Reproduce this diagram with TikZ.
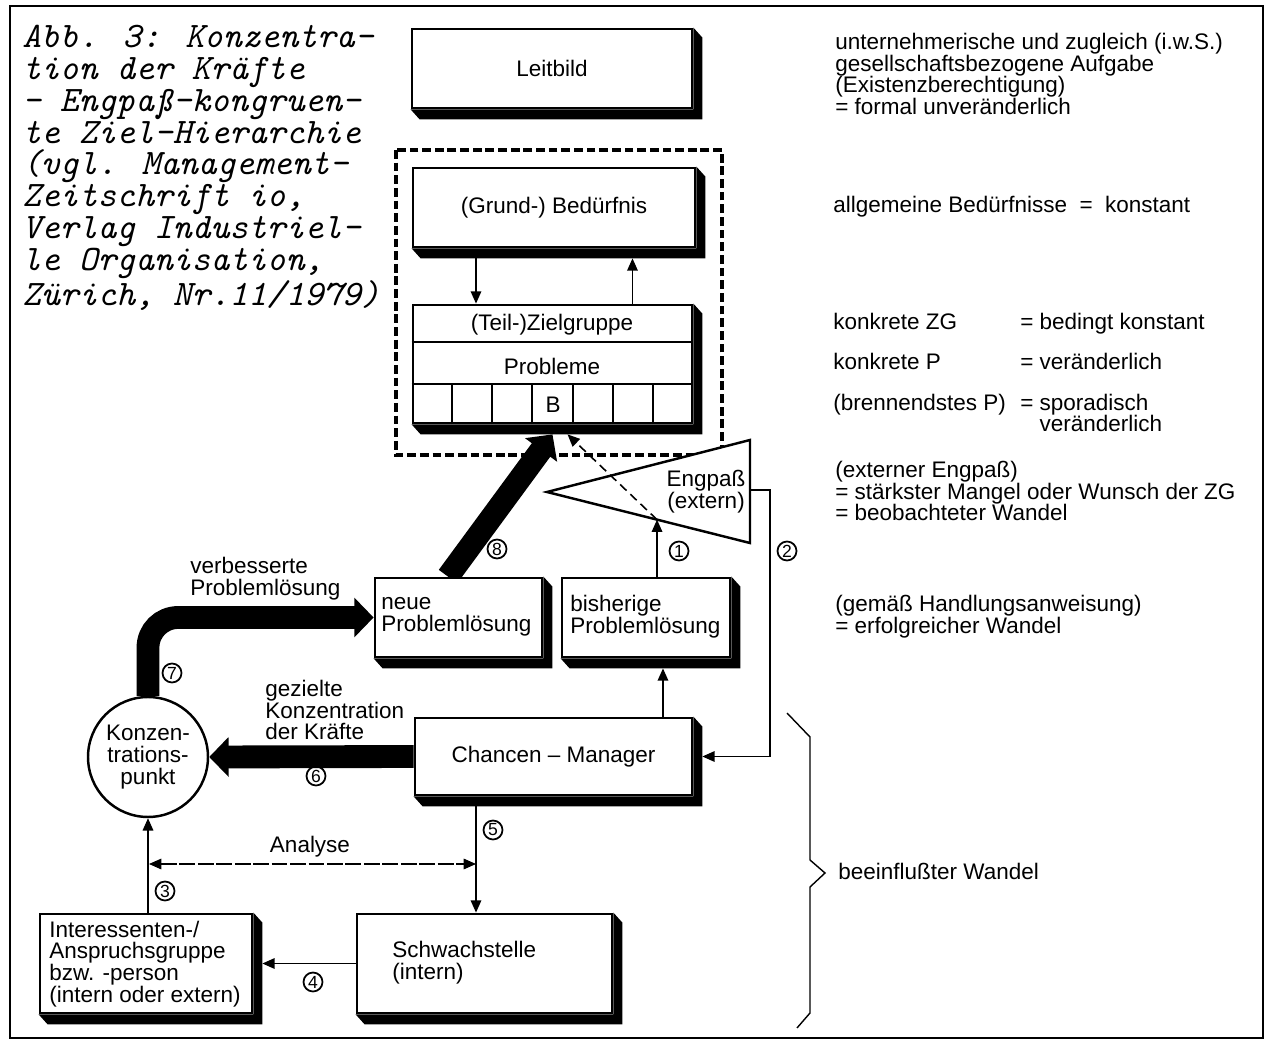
\documentclass[tikz,border=0pt]{standalone}
\usepackage{fontspec}
\setmainfont{Liberation Sans}
\usetikzlibrary{arrows.meta,backgrounds,calc}
\newcommand\bxfont{\fontsize{12.8}{12.4}\selectfont}
\newcommand\boxshade[1]{\fill (#1.north east) -- ++(9,10) -- ([shift={(9,10)}]#1.south east) -- ([shift={(9,10)}]#1.south west) -- (#1.south west) -- (#1.south east) -- cycle;}
\begin{document}
\begin{tikzpicture}[x=0.02cm,y=-0.02cm,
  sbox/.style={draw, line width=1.6pt, fill=white, inner sep=0pt, font=\bxfont, align=center},
  txt/.style={inner sep=0pt, font=\bxfont, align=left},
  rt/.style={inner sep=0pt, font=\bxfont, align=left, anchor=west},
  rtb/.style={inner sep=0pt, font=\bxfont, align=left, anchor=base west},
  arr/.style={line width=0.9pt, -{Triangle[length=7pt,width=6pt]}},
  fat/.style={line width=13pt, -{Triangle[length=11pt,width=22pt]}},
  num/.style={circle, draw, line width=1pt, inner sep=0pt, minimum size=0.38cm, font=\fontsize{10}{10}\selectfont},
  dbox/.style={line width=2.4pt, dash pattern=on 5pt off 2.2pt}
]
\useasboundingbox (0,0) rectangle (1268,1050);
\draw[line width=1.2pt] (10,6) rectangle (1263,1038);

% title
\node[anchor=north west, align=left, inner sep=0pt, font=\ttfamily\itshape\fontsize{20.4}{18.1}\selectfont] (title) at (22,25)
 {Abb. 3: Konzentra-\\tion der Kräfte\\- Engpaß-kongruen-\\te Ziel-Hierarchie\\(vgl. Management-\\Zeitschrift io,\\Verlag Industriel-\\le Organisation,\\Zürich, Nr.11/1979)};

% dashed frame (background)
\begin{scope}[on background layer]
\draw[dbox] (396,150) rectangle (722,455);
\end{scope}

% boxes
\node[sbox, minimum width=5.6cm, minimum height=1.58cm] (leit) at (552,68.5) {Leitbild};
\boxshade{leit}
\node[sbox, minimum width=5.64cm, minimum height=1.58cm] (bed) at (554,207.5) {(Grund-) Bedürfnis};
\boxshade{bed}
\node[sbox, minimum width=5.58cm, minimum height=2.36cm] (zg) at (552.5,364) {};
\boxshade{zg}
\draw[line width=1.2pt] ([yshift=-0.76cm]zg.north west) -- ([yshift=-0.76cm]zg.north east);
\draw[line width=1.2pt] ([yshift=-1.6cm]zg.north west) -- ([yshift=-1.6cm]zg.north east);
\foreach \k in {1,...,6} \draw[line width=1.2pt] ($(zg.south west)!\k/7!(zg.south east)$) -- ++(0,-39);
\node[txt] (zgt) at (552,325) {(Teil-)Zielgruppe};
\node[txt] (prob) at (552,366) {Probleme};
\node[txt] (bcell) at (553,405) {B};

\node[sbox, minimum width=3.34cm, minimum height=1.58cm] (neue) at (458.5,617.5) {};
\boxshade{neue}
\node[txt, anchor=west] (neuet) at (381,617) {neue\\Problemlösung};
\node[sbox, minimum width=3.36cm, minimum height=1.58cm] (bish) at (646,617.5) {};
\boxshade{bish}
\node[txt, anchor=west] (bisht) at (570,617) {bisherige\\Problemlösung};

\node[sbox, minimum width=5.54cm, minimum height=1.54cm] (cm) at (553.5,756.5) {Chancen – Manager};
\boxshade{cm}

\node[circle, draw, line width=1.4pt, fill=white, minimum size=2.4cm, inner sep=0pt, font=\bxfont, align=center] (kp) at (148,757) {Konzen-\\trations-\\punkt};

\node[sbox, minimum width=4.24cm, minimum height=1.98cm] (inter) at (146,963.5) {};
\boxshade{inter}
\node[txt, anchor=west] (intert) at (49,964) {Interessenten-/\\Anspruchsgruppe\\bzw. -person\\(intern oder extern)};
\node[sbox, minimum width=5.1cm, minimum height=1.98cm] (schw) at (484.5,963.5) {};
\boxshade{schw}
\node[txt, anchor=west] (schwt) at (392,963) {Schwachstelle\\(intern)};

% triangle
\coordinate (ta) at (547,492);
\coordinate (tt) at (750,440);
\coordinate (tb) at (750,543);
\draw[line width=1.4pt, fill=white] (ta) -- (tt) -- (tb) -- cycle;
\node[txt, align=center] (eng) at (706,492) {Engpaß\\(extern)};
\coordinate (e1) at ($(ta)!0.542!(tb)$);
\coordinate (e2) at ($(tt)!0.485!(tb)$);

% thick arrows
\begin{scope}[on background layer]
\draw[fat] (cm.west) -- (kp.east);
\draw[fat, rounded corners=0.6cm] (kp.north) |- (neue.west);
\draw[fat] ([xshift=-0.21cm]neue.north) -- ($(zg.south)+(0,10)$);
\end{scope}

% thin arrows
\draw[arr] ([shift={(-78,10)}]bed.south) coordinate (c2) -- (c2 |- zg.north);
\draw[arr] ([xshift=1.6cm]zg.north) coordinate (c3) -- ($(c3 |- bed.south)+(0,10)$);
\draw[arr] (bish.north -| e1) -- (e1);
\draw[line width=0.9pt, dash pattern=on 5pt off 3pt, -{Triangle[length=7pt,width=6pt]}] (e1) -- ($(zg.south)+(15,10)$);
\draw[arr] (e2) -- ++(20,0) |- ([xshift=0.18cm]cm.east);
\draw[arr] ([xshift=2.19cm]cm.north) coordinate (c1) -- ($(c1 |- bish.south)+(0,10)$);
\draw[arr] ([shift={(-77.5,10)}]cm.south) coordinate (c5) -- (c5 |- schw.north);
\draw[arr] (schw.west) -- ([xshift=0.18cm]inter.east);
\draw[arr] (kp.south |- inter.north) -- (kp.south);
\coordinate (an1) at (149,864);
\coordinate (an2) at (476,864);
\draw[line width=0.7pt, dash pattern=on 9pt off 1.5pt, {Triangle[length=7pt,width=6pt]}-{Triangle[length=7pt,width=6pt]}] (an1) -- (an2);

% labels
\node[txt, anchor=west] (lab7) at (190,579) {verbesserte\\Problemlösung};
\node[txt, anchor=west] (lab6) at (265,710) {gezielte\\Konzentration\\der Kräfte};
\node[txt] (laban) at (310,847) {Analyse};

\node[num] (n1) at (679,551) {1};
\node[num] (n2) at (787,551) {2};
\node[num] (n3) at (165,891) {3};
\node[num] (n4) at (313,982) {4};
\node[num] (n5) at (493,830) {5};
\node[num] (n6) at (316,776) {6};
\node[num] (n7) at (172,673) {7};
\node[num] (n8) at (497,549) {8};

% brace
\draw[line width=0.8pt] (787,713) -- (810,737) -- (810,860) -- (825,873) -- (810,887) -- (810,1013) -- (797,1028);

% right texts
\node[rt] (r1) at (835,74) {unternehmerische und zugleich (i.w.S.)\\gesellschaftsbezogene Aufgabe\\(Existenzberechtigung)\\= formal unveränderlich};
\node[rtb] (r2) at (833,213) {allgemeine Bedürfnisse\ \ =\ \ konstant};
\node[rtb] (r3a) at (833,330) {konkrete ZG};
\node[rtb] (r3b) at (1020,330) {= bedingt konstant};
\node[rtb] (r4a) at (833,370) {konkrete P};
\node[rtb] (r4b) at (1020,370) {= veränderlich};
\node[rtb] (r5a) at (833,411) {(brennendstes P)};
\node[rtb] (r5b) at (1020,432) {= sporadisch\\\phantom{= }veränderlich};
\node[rt] (r6) at (835,491) {(externer Engpaß)\\= stärkster Mangel oder Wunsch der ZG\\= beobachteter Wandel};
\node[rt] (r7) at (835,617) {(gemäß Handlungsanweisung)\\= erfolgreicher Wandel};
\node[rtb] (r8) at (838,879) {beeinflußter Wandel};
\end{tikzpicture}
\end{document}
